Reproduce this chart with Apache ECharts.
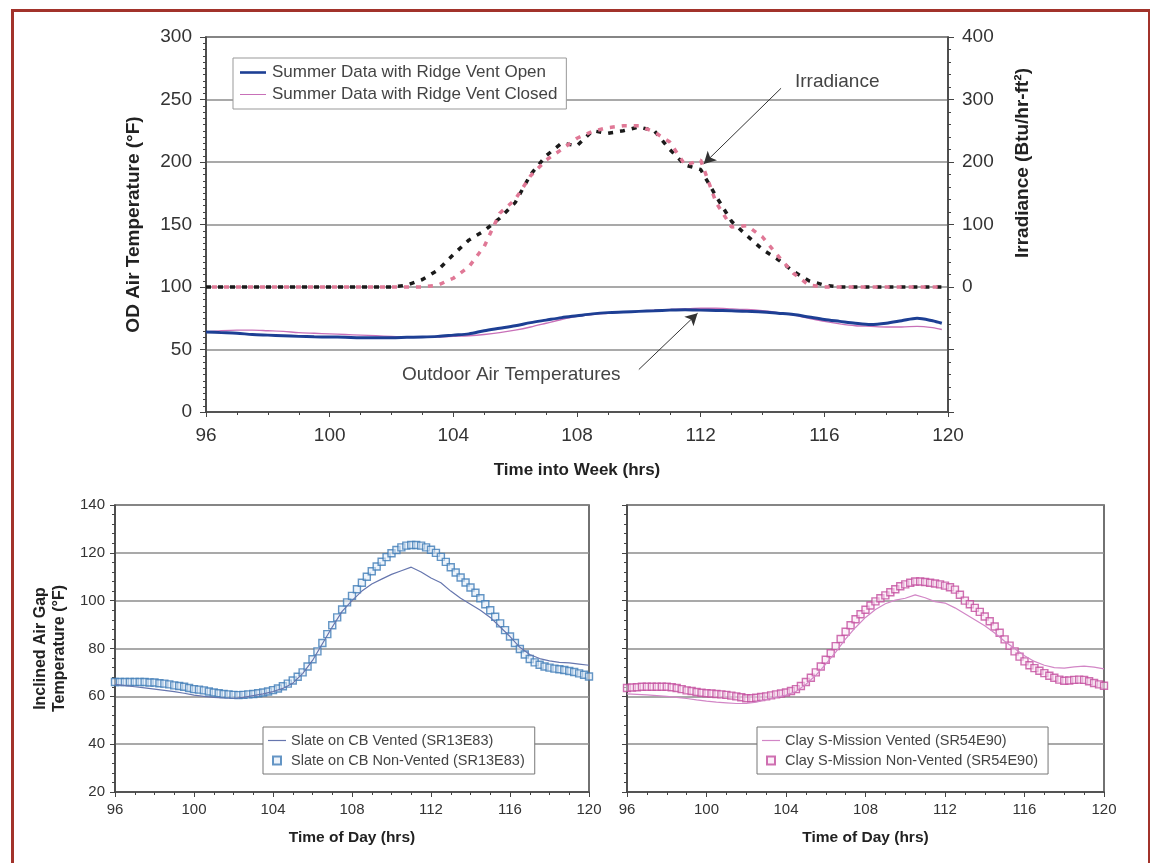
<!DOCTYPE html>
<html>
<head>
<meta charset="utf-8">
<script src="https://cdn.jsdelivr.net/npm/echarts@6/dist/echarts.min.js"></script>
<style>
  html, body { margin: 0; padding: 0; background: #fff; }
  #main { width: 1150px; height: 863px; }
</style>
</head>
<body>
<div id="main"></div>
<script>
// ---- top chart: outdoor air temperature + irradiance (time into week, hrs)
var topHours = [96, 96.5, 97, 97.5, 98, 98.5, 99, 99.5, 100, 100.5, 101, 101.5, 102, 102.5, 103, 103.5,
  104, 104.5, 105, 105.5, 106, 106.5, 107, 107.5, 108, 108.5, 109, 109.5, 110, 110.5, 111, 111.5,
  112, 112.5, 113, 113.5, 114, 114.5, 115, 115.5, 116, 116.5, 117, 117.5, 118, 118.5, 119, 119.5, 119.8];
var tempOpen = [64, 63.5, 63, 62, 61.5, 61, 60.5, 60.2, 60, 59.8, 59.5, 59.5, 59.5, 59.8, 60, 60.5,
  61.5, 62.5, 65, 67, 69, 71.5, 73.5, 75.5, 77, 78.5, 79.5, 80, 80.5, 81, 81.5, 81.8,
  81.5, 81.2, 81, 80.5, 80, 79, 78, 76, 74, 72.5, 71, 70, 71, 73, 75, 73, 71];
var tempClosed = [64, 65, 65.5, 65.5, 65, 64.5, 63.5, 63, 62.5, 62, 61.5, 61, 60.5, 60, 59.8, 60,
  60.5, 61, 62, 63.5, 65.5, 68, 71, 74, 76.5, 78, 79, 80, 80.5, 81.5, 82, 82.5,
  83, 83, 82.5, 82, 81, 79.5, 77.5, 75, 72.5, 70.5, 69, 68.5, 68, 68, 68.5, 67.5, 66];
var irrOpen = [0, 0, 0, 0, 0, 0, 0, 0, 0, 0, 0, 0, 0, 3, 12, 27,
  52, 75, 90, 110, 135, 180, 210, 230, 226, 250, 246, 250, 256, 250, 220, 195,
  188, 145, 105, 82, 60, 44, 25, 10, 3, 0, 0, 0, 0, 0, 0, 0, 0];
var irrClosed = [0, 0, 0, 0, 0, 0, 0, 0, 0, 0, 0, 0, 0, 0, 0, 3,
  14, 32, 65, 118, 140, 178, 203, 220, 238, 249, 255, 258, 258, 248, 232, 195,
  203, 135, 96, 98, 80, 50, 22, 3, 0, 0, 0, 0, 0, 0, 0, 0, 0];

// ---- bottom charts: inclined air gap temperature (time of day, hrs)
var gapHours = [96, 96.5, 97, 97.5, 98, 98.5, 99, 99.5, 100, 100.5, 101, 101.5, 102, 102.5, 103, 103.5,
  104, 104.5, 105, 105.5, 106, 106.5, 107, 107.5, 108, 108.5, 109, 109.5, 110, 110.5, 111, 111.5,
  112, 112.5, 113, 113.5, 114, 114.5, 115, 115.5, 116, 116.5, 117, 117.5, 118, 118.5, 119, 119.5, 120];
var gapHoursFine = [96, 96.25, 96.5, 96.75, 97, 97.25, 97.5, 97.75, 98, 98.25, 98.5, 98.75,
  99, 99.25, 99.5, 99.75, 100, 100.25, 100.5, 100.75, 101, 101.25, 101.5, 101.75,
  102, 102.25, 102.5, 102.75, 103, 103.25, 103.5, 103.75, 104, 104.25, 104.5, 104.75,
  105, 105.25, 105.5, 105.75, 106, 106.25, 106.5, 106.75, 107, 107.25, 107.5, 107.75,
  108, 108.25, 108.5, 108.75, 109, 109.25, 109.5, 109.75, 110, 110.25, 110.5, 110.75,
  111, 111.25, 111.5, 111.75, 112, 112.25, 112.5, 112.75, 113, 113.25, 113.5, 113.75,
  114, 114.25, 114.5, 114.75, 115, 115.25, 115.5, 115.75, 116, 116.25, 116.5, 116.75,
  117, 117.25, 117.5, 117.75, 118, 118.25, 118.5, 118.75, 119, 119.25, 119.5, 119.75, 120];

var slateVented = [65, 64.5, 64, 63.5, 63, 62.5, 62, 61.3, 60.5, 60, 59.6, 59.3, 59.2, 59.6, 60.3, 61,
  62, 63.3, 65.5, 69.5, 75, 82, 89, 95.5, 100, 104, 107, 109, 111, 112.5, 114, 112,
  109.5, 107.5, 104, 101, 98.5, 96, 93, 89, 85, 80.5, 77.5, 75.8, 74.8, 74.2, 74, 73.5, 73];
var slateNonVented = [66, 66, 66, 66, 66, 66, 66, 65.8, 65.8, 65.5, 65.3, 65,
  64.6, 64.3, 64, 63.5, 63, 62.8, 62.5, 62, 61.6, 61.3, 61, 60.8,
  60.6, 60.5, 60.6, 60.8, 61, 61.3, 61.6, 62, 62.6, 63.3, 64.2, 65.3,
  66.6, 68.2, 70, 72.5, 75.5, 78.8, 82.3, 86, 89.7, 93, 96.3, 99.3,
  102, 104.8, 107.5, 110, 112.3, 114.3, 116.3, 118.2, 119.8, 121.2, 122.3, 123,
  123.3, 123.3, 123, 122.3, 121.3, 120, 118.3, 116.2, 114, 111.8, 109.7, 107.6,
  105.5, 103.3, 101, 98.5, 96, 93.3, 90.5, 87.7, 85, 82.3, 79.8, 77.5,
  75.6, 74.2, 73.2, 72.5, 72, 71.6, 71.3, 71, 70.6, 70.2, 69.6, 69, 68.3];
var clayVented = [61, 60.8, 60.6, 60.3, 60, 59.6, 59.1, 58.5, 58, 57.6, 57.3, 57, 57, 57.6, 58.6, 59.6,
  60.5, 62, 65, 68.8, 73.5, 78.5, 84, 88.8, 93, 96.3, 98.7, 100.2, 101, 102.4, 101.2, 99.6,
  99, 97, 94.5, 92, 89.5, 86.5, 83, 80, 77, 74.6, 73, 72, 71.8, 72.3, 72.6, 72.2, 71.5];
var clayNonVented = [63.5, 63.7, 63.8, 64, 64, 64, 64, 64, 64, 63.8, 63.5, 63,
  62.5, 62.2, 61.8, 61.5, 61.3, 61.2, 61, 60.8, 60.6, 60.3, 60, 59.6,
  59.2, 59.2, 59.4, 59.7, 60, 60.4, 60.8, 61.2, 61.6, 62.2, 63, 64.3,
  66, 67.8, 70, 72.5, 75.3, 78, 81, 84, 87, 89.7, 92.2, 94.3,
  96.2, 98, 99.7, 101, 102.2, 103.5, 104.8, 106, 106.8, 107.5, 108, 108,
  107.8, 107.5, 107.2, 106.8, 106.3, 105.6, 104.6, 102.5, 100, 98.5, 97, 95.3,
  93.4, 91.4, 89.2, 86.6, 83.8, 81.2, 78.8, 76.6, 74.6, 73, 71.8, 70.7,
  69.7, 68.6, 67.8, 67, 66.5, 66.6, 66.9, 67, 66.9, 66.3, 65.6, 65, 64.4];

var FONT = '"Liberation Sans", Arial, sans-serif';
var GRIDLINE = '#8c8c8c';
var AXISLINE = '#444';
// legend icons: flat bars that read as line samples, and a small square
var ICON_THICK = 'path://M0,0H30V3H0Z';
var ICON_THIN = 'path://M0,0H30V1.2H0Z';
var ICON_SHORT = 'path://M0,0H18V1.2H0Z';
var ICON_SQUARE = 'path://M0,0H8V8H0Z';

function pairs(xs, ys) {
  return xs.map(function (x, i) { return [x, ys[i]]; });
}

var chart = echarts.init(document.getElementById('main'));

function xAxisFor(gridIndex, name, fontSize, nameSize, nameGap, margin) {
  return {
    type: 'value', gridIndex: gridIndex, min: 96, max: 120, interval: 4,
    name: name, nameLocation: 'middle', nameGap: nameGap,
    nameTextStyle: { fontFamily: FONT, fontWeight: 'bold', fontSize: nameSize, color: '#222' },
    axisLine: { show: true, onZero: false, lineStyle: { color: AXISLINE, width: 1.5 } },
    axisTick: { show: true, length: 5, lineStyle: { color: AXISLINE } },
    minorTick: { show: true, splitNumber: 4, length: 3, lineStyle: { color: AXISLINE } },
    axisLabel: { fontFamily: FONT, fontSize: fontSize, color: '#333', margin: margin },
    splitLine: { show: false }
  };
}

var option = {
  animation: false,
  backgroundColor: '#fff',
  textStyle: { fontFamily: FONT },
  grid: [
    { left: 206, top: 37, width: 742, height: 375, show: true, borderColor: AXISLINE, borderWidth: 1.5 },
    { left: 115, top: 505, width: 474, height: 287, show: true, borderColor: AXISLINE, borderWidth: 1.5 },
    { left: 627, top: 505, width: 477, height: 287, show: true, borderColor: AXISLINE, borderWidth: 1.5 }
  ],
  xAxis: [
    xAxisFor(0, 'Time into Week (hrs)', 19, 17, 50, 14),
    xAxisFor(1, 'Time of Day (hrs)', 15, 15.5, 38, 10),
    xAxisFor(2, 'Time of Day (hrs)', 15, 15.5, 38, 10)
  ],
  yAxis: [
    {
      type: 'value', gridIndex: 0, min: 0, max: 300, interval: 50,
      name: 'OD Air Temperature (°F)', nameLocation: 'middle', nameGap: 63,
      nameTextStyle: { fontFamily: FONT, fontWeight: 'bold', fontSize: 19, color: '#222' },
      axisLine: { show: true, lineStyle: { color: AXISLINE, width: 1.5 } },
      axisTick: { show: true, length: 6, lineStyle: { color: AXISLINE } },
      minorTick: { show: true, splitNumber: 10, length: 3, lineStyle: { color: AXISLINE } },
      axisLabel: { fontFamily: FONT, fontSize: 19, color: '#333', margin: 14 },
      splitLine: { show: true, lineStyle: { color: GRIDLINE, width: 1.5 } }
    },
    {
      type: 'value', gridIndex: 0, position: 'right', min: -200, max: 400, interval: 100,
      axisLine: { show: true, lineStyle: { color: AXISLINE, width: 1.5 } },
      axisTick: { show: true, length: 6, lineStyle: { color: AXISLINE } },
      minorTick: { show: true, splitNumber: 5, length: 3, lineStyle: { color: AXISLINE } },
      axisLabel: {
        fontFamily: FONT, fontSize: 19, color: '#333', margin: 14,
        formatter: function (v) { return v < 0 ? '' : v; }
      },
      splitLine: { show: false }
    },
    {
      type: 'value', gridIndex: 1, min: 20, max: 140, interval: 20,
      name: 'Inclined Air Gap\nTemperature (°F)', nameLocation: 'middle', nameGap: 46,
      nameTextStyle: { fontFamily: FONT, fontWeight: 'bold', fontSize: 16, color: '#222', lineHeight: 19 },
      axisLine: { show: true, lineStyle: { color: AXISLINE, width: 1.5 } },
      axisTick: { show: true, length: 5, lineStyle: { color: AXISLINE } },
      minorTick: { show: true, splitNumber: 5, length: 3, lineStyle: { color: AXISLINE } },
      axisLabel: { fontFamily: FONT, fontSize: 15, color: '#333', margin: 10 },
      splitLine: { show: true, lineStyle: { color: GRIDLINE, width: 1.5 } }
    },
    {
      type: 'value', gridIndex: 2, min: 20, max: 140, interval: 20,
      axisLine: { show: true, lineStyle: { color: AXISLINE, width: 1.5 } },
      axisTick: { show: true, length: 5, lineStyle: { color: AXISLINE } },
      minorTick: { show: true, splitNumber: 5, length: 3, lineStyle: { color: AXISLINE } },
      axisLabel: { show: false },
      splitLine: { show: true, lineStyle: { color: GRIDLINE, width: 1.5 } }
    }
  ],
  legend: [
    {
      data: [
        { name: 'Summer Data with Ridge Vent Open', icon: ICON_THICK },
        { name: 'Summer Data with Ridge Vent Closed', icon: ICON_THIN }
      ],
      orient: 'vertical', left: 233, top: 58, itemWidth: 26, itemHeight: 10, itemGap: 5,
      padding: [6, 9, 6, 7], borderColor: '#999', borderWidth: 1, backgroundColor: '#fff',
      textStyle: { fontFamily: FONT, fontSize: 17, color: '#444', padding: [0, 0, 0, 1] }
    },
    {
      data: [
        { name: 'Slate on CB Vented (SR13E83)', icon: ICON_SHORT },
        { name: 'Slate on CB Non-Vented (SR13E83)', icon: ICON_SQUARE }
      ],
      orient: 'vertical', left: 263, top: 727, itemWidth: 18, itemHeight: 8, itemGap: 5,
      padding: [6, 10, 6, 5], borderColor: '#777', borderWidth: 1, backgroundColor: '#fff',
      textStyle: { fontFamily: FONT, fontSize: 14.5, color: '#444' }
    },
    {
      data: [
        { name: 'Clay S-Mission Vented (SR54E90)', icon: ICON_SHORT },
        { name: 'Clay S-Mission Non-Vented (SR54E90)', icon: ICON_SQUARE }
      ],
      orient: 'vertical', left: 757, top: 727, itemWidth: 18, itemHeight: 8, itemGap: 5,
      padding: [6, 10, 6, 5], borderColor: '#777', borderWidth: 1, backgroundColor: '#fff',
      textStyle: { fontFamily: FONT, fontSize: 14.5, color: '#444' }
    }
  ],
  series: [
    {
      name: 'Irradiance (vent open)', type: 'line', xAxisIndex: 0, yAxisIndex: 1, symbol: 'none',
      data: pairs(topHours, irrOpen),
      lineStyle: { color: '#1a1a1a', width: 3.5, type: [5, 7] },
      markLine: {
        silent: true, symbol: ['none', 'arrow'], symbolSize: [10, 12],
        label: { show: false },
        lineStyle: { color: '#333', width: 1, type: 'solid' },
        data: [[{ coord: [114.6, 318] }, { coord: [112.1, 197] }]]
      },
      z: 3
    },
    {
      name: 'Irradiance (vent closed)', type: 'line', xAxisIndex: 0, yAxisIndex: 1, symbol: 'none',
      data: pairs(topHours, irrClosed),
      lineStyle: { color: '#e07896', width: 3.5, type: [5, 7], dashOffset: 6 },
      z: 3
    },
    {
      name: 'Summer Data with Ridge Vent Closed', type: 'line', xAxisIndex: 0, yAxisIndex: 0,
      symbol: 'none', smooth: 0.3, data: pairs(topHours, tempClosed),
      itemStyle: { color: '#c870b8' },
      lineStyle: { color: '#c870b8', width: 1.3 },
      z: 4
    },
    {
      name: 'Summer Data with Ridge Vent Open', type: 'line', xAxisIndex: 0, yAxisIndex: 0,
      symbol: 'none', smooth: 0.3, data: pairs(topHours, tempOpen),
      itemStyle: { color: '#1d3f94' },
      lineStyle: { color: '#1d3f94', width: 3 },
      markLine: {
        silent: true, symbol: ['none', 'arrow'], symbolSize: [10, 12],
        label: { show: false },
        lineStyle: { color: '#333', width: 1, type: 'solid' },
        data: [[{ coord: [110.0, 34] }, { coord: [111.9, 79] }]]
      },
      z: 5
    },
    {
      name: 'Slate on CB Vented (SR13E83)', type: 'line', xAxisIndex: 1, yAxisIndex: 2,
      symbol: 'none', data: pairs(gapHours, slateVented),
      itemStyle: { color: '#6676ae' },
      lineStyle: { color: '#6676ae', width: 1.2 },
      z: 4
    },
    {
      name: 'Slate on CB Non-Vented (SR13E83)', type: 'scatter', xAxisIndex: 1, yAxisIndex: 2,
      symbol: 'rect', symbolSize: 7, data: pairs(gapHoursFine, slateNonVented),
      itemStyle: { color: 'rgba(225,236,247,0.7)', borderColor: '#3f7cb6', borderWidth: 1.4 },
      z: 3
    },
    {
      name: 'Clay S-Mission Vented (SR54E90)', type: 'line', xAxisIndex: 2, yAxisIndex: 3,
      symbol: 'none', data: pairs(gapHours, clayVented),
      itemStyle: { color: '#d286c6' },
      lineStyle: { color: '#d286c6', width: 1.2 },
      z: 4
    },
    {
      name: 'Clay S-Mission Non-Vented (SR54E90)', type: 'scatter', xAxisIndex: 2, yAxisIndex: 3,
      symbol: 'rect', symbolSize: 7, data: pairs(gapHoursFine, clayNonVented),
      itemStyle: { color: 'rgba(250,230,244,0.7)', borderColor: '#c34c9e', borderWidth: 1.4 },
      z: 3
    }
  ],
  graphic: [
    {
      type: 'rect', left: 10, top: 8, z: 100, silent: true,
      shape: { width: 1137, height: 900 },
      style: { fill: 'none', stroke: '#a2332b', lineWidth: 3 }
    },
    {
      type: 'text', left: 795, top: 72,
      style: { text: 'Irradiance', font: '19px ' + FONT, fill: '#444' }
    },
    {
      type: 'text', left: 402, top: 365,
      style: { text: 'Outdoor Air Temperatures', font: '19px ' + FONT, fill: '#444' }
    },
    {
      type: 'text', x: 1023, y: 163, rotation: Math.PI / 2,
      style: {
        text: 'Irradiance (Btu/hr-ft²)', font: 'bold 19px ' + FONT, fill: '#222',
        align: 'center', verticalAlign: 'middle'
      }
    }
  ]
};

chart.setOption(option);
</script>
</body>
</html>
